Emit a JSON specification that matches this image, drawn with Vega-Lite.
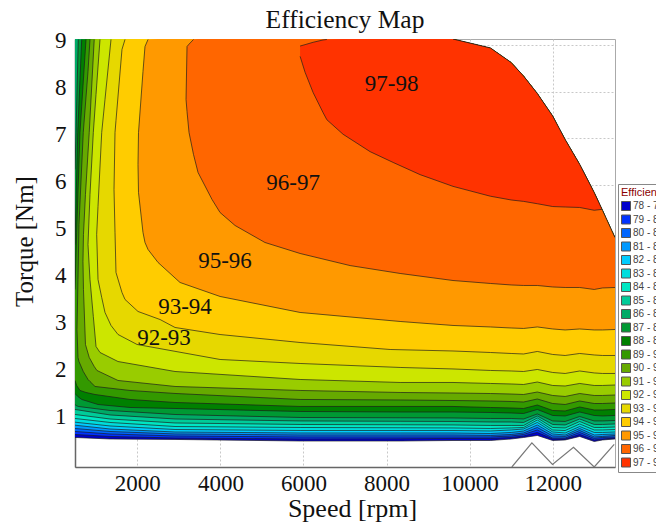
{
"$schema":"https://vega.github.io/schema/vega-lite/v6.json",
"autosize":{"type":"none"},
"padding":{"left":75,"top":39,"right":41,"bottom":56},
"width":540,"height":428,
"background":"white",
"title":{"text":"Efficiency Map","font":"Liberation Serif","fontSize":25.5,"fontWeight":"normal","color":"#111","anchor":"middle","offset":-4},
"config":{"view":{"stroke":"#aaa","strokeWidth":1},
"axis":{"grid":true,"gridColor":"#c8c8c8","gridDash":[2,2],"gridWidth":1,"ticks":false,"domainColor":"#666","domainWidth":1.5,"labelFont":"Liberation Serif","labelFontSize":23,"labelColor":"#111","titleFont":"Liberation Serif","titleFontWeight":"normal","titleColor":"#111","titleFontSize":25}},
"data":{"values":[
{"l":"78 - 79","s":500,"v":0.629,"t":9.12},{"l":"78 - 79","s":1343,"v":0.597,"t":9.12},{"l":"78 - 79","s":2908,"v":0.587,"t":9.12},{"l":"78 - 79","s":5919,"v":0.554,"t":9.12},{"l":"78 - 79","s":8327,"v":0.554,"t":9.12},{"l":"78 - 79","s":9600,"v":0.565,"t":9.12},{"l":"78 - 79","s":10500,"v":0.565,"t":8.93},{"l":"78 - 79","s":11000,"v":0.597,"t":8.62},{"l":"78 - 79","s":11300,"v":0.629,"t":8.33},{"l":"78 - 79","s":11630,"v":0.672,"t":7.96},{"l":"78 - 79","s":12000,"v":0.565,"t":7.48},{"l":"78 - 79","s":12300,"v":0.576,"t":6.98},{"l":"78 - 79","s":12650,"v":0.651,"t":6.45},{"l":"78 - 79","s":13000,"v":0.544,"t":5.85},{"l":"78 - 79","s":13200,"v":0.576,"t":5.47},{"l":"78 - 79","s":13500,"v":0.597,"t":4.89},
{"l":"79 - 80","s":500,"v":0.693,"t":9.12},{"l":"79 - 80","s":1343,"v":0.651,"t":9.12},{"l":"79 - 80","s":2908,"v":0.618,"t":9.12},{"l":"79 - 80","s":5919,"v":0.597,"t":9.12},{"l":"79 - 80","s":8327,"v":0.601,"t":9.12},{"l":"79 - 80","s":9600,"v":0.608,"t":9.12},{"l":"79 - 80","s":10500,"v":0.608,"t":8.93},{"l":"79 - 80","s":11000,"v":0.629,"t":8.62},{"l":"79 - 80","s":11300,"v":0.661,"t":8.33},{"l":"79 - 80","s":11630,"v":0.736,"t":7.96},{"l":"79 - 80","s":12000,"v":0.597,"t":7.48},{"l":"79 - 80","s":12300,"v":0.597,"t":6.98},{"l":"79 - 80","s":12650,"v":0.693,"t":6.45},{"l":"79 - 80","s":13000,"v":0.576,"t":5.85},{"l":"79 - 80","s":13200,"v":0.597,"t":5.47},{"l":"79 - 80","s":13500,"v":0.618,"t":4.89},
{"l":"80 - 81","s":500,"v":0.757,"t":9.12},{"l":"80 - 81","s":1343,"v":0.704,"t":9.12},{"l":"80 - 81","s":2908,"v":0.661,"t":9.12},{"l":"80 - 81","s":5919,"v":0.64,"t":9.12},{"l":"80 - 81","s":8327,"v":0.64,"t":9.12},{"l":"80 - 81","s":9600,"v":0.64,"t":9.12},{"l":"80 - 81","s":10500,"v":0.64,"t":8.93},{"l":"80 - 81","s":11000,"v":0.661,"t":8.62},{"l":"80 - 81","s":11300,"v":0.693,"t":8.33},{"l":"80 - 81","s":11630,"v":0.789,"t":7.96},{"l":"80 - 81","s":12000,"v":0.618,"t":7.48},{"l":"80 - 81","s":12300,"v":0.618,"t":6.98},{"l":"80 - 81","s":12650,"v":0.736,"t":6.45},{"l":"80 - 81","s":13000,"v":0.608,"t":5.85},{"l":"80 - 81","s":13200,"v":0.629,"t":5.47},{"l":"80 - 81","s":13500,"v":0.64,"t":4.89},
{"l":"81 - 82","s":500,"v":0.821,"t":9.12},{"l":"81 - 82","s":1343,"v":0.757,"t":9.12},{"l":"81 - 82","s":2908,"v":0.704,"t":9.12},{"l":"81 - 82","s":5919,"v":0.682,"t":9.12},{"l":"81 - 82","s":8327,"v":0.682,"t":9.12},{"l":"81 - 82","s":9600,"v":0.682,"t":9.12},{"l":"81 - 82","s":10500,"v":0.672,"t":8.93},{"l":"81 - 82","s":11000,"v":0.693,"t":8.62},{"l":"81 - 82","s":11300,"v":0.725,"t":8.33},{"l":"81 - 82","s":11630,"v":0.842,"t":7.96},{"l":"81 - 82","s":12000,"v":0.661,"t":7.48},{"l":"81 - 82","s":12300,"v":0.651,"t":6.98},{"l":"81 - 82","s":12650,"v":0.778,"t":6.45},{"l":"81 - 82","s":13000,"v":0.64,"t":5.85},{"l":"81 - 82","s":13200,"v":0.651,"t":5.47},{"l":"81 - 82","s":13500,"v":0.672,"t":4.89},
{"l":"82 - 83","s":500,"v":0.891,"t":9.12},{"l":"82 - 83","s":1343,"v":0.81,"t":9.12},{"l":"82 - 83","s":2908,"v":0.746,"t":9.12},{"l":"82 - 83","s":5919,"v":0.725,"t":9.12},{"l":"82 - 83","s":8327,"v":0.725,"t":9.12},{"l":"82 - 83","s":9600,"v":0.725,"t":9.12},{"l":"82 - 83","s":10500,"v":0.714,"t":8.93},{"l":"82 - 83","s":11000,"v":0.736,"t":8.62},{"l":"82 - 83","s":11300,"v":0.767,"t":8.33},{"l":"82 - 83","s":11630,"v":0.896,"t":7.96},{"l":"82 - 83","s":12000,"v":0.704,"t":7.48},{"l":"82 - 83","s":12300,"v":0.682,"t":6.98},{"l":"82 - 83","s":12650,"v":0.821,"t":6.45},{"l":"82 - 83","s":13000,"v":0.682,"t":5.85},{"l":"82 - 83","s":13200,"v":0.693,"t":5.47},{"l":"82 - 83","s":13500,"v":0.704,"t":4.89},
{"l":"83 - 84","s":500,"v":0.955,"t":9.12},{"l":"83 - 84","s":1343,"v":0.874,"t":9.12},{"l":"83 - 84","s":2908,"v":0.799,"t":9.12},{"l":"83 - 84","s":5919,"v":0.778,"t":9.12},{"l":"83 - 84","s":8327,"v":0.778,"t":9.12},{"l":"83 - 84","s":9600,"v":0.778,"t":9.12},{"l":"83 - 84","s":10500,"v":0.767,"t":8.93},{"l":"83 - 84","s":11000,"v":0.789,"t":8.62},{"l":"83 - 84","s":11300,"v":0.81,"t":8.33},{"l":"83 - 84","s":11630,"v":0.949,"t":7.96},{"l":"83 - 84","s":12000,"v":0.746,"t":7.48},{"l":"83 - 84","s":12300,"v":0.725,"t":6.98},{"l":"83 - 84","s":12650,"v":0.863,"t":6.45},{"l":"83 - 84","s":13000,"v":0.736,"t":5.85},{"l":"83 - 84","s":13200,"v":0.736,"t":5.47},{"l":"83 - 84","s":13500,"v":0.746,"t":4.89},
{"l":"84 - 85","s":500,"v":1.034,"t":9.12},{"l":"84 - 85","s":1343,"v":0.949,"t":9.12},{"l":"84 - 85","s":2908,"v":0.863,"t":9.12},{"l":"84 - 85","s":5919,"v":0.842,"t":9.12},{"l":"84 - 85","s":8327,"v":0.836,"t":9.12},{"l":"84 - 85","s":9600,"v":0.832,"t":9.12},{"l":"84 - 85","s":10500,"v":0.821,"t":8.93},{"l":"84 - 85","s":11000,"v":0.832,"t":8.62},{"l":"84 - 85","s":11300,"v":0.842,"t":8.33},{"l":"84 - 85","s":11630,"v":1.002,"t":7.96},{"l":"84 - 85","s":12000,"v":0.789,"t":7.48},{"l":"84 - 85","s":12300,"v":0.778,"t":6.98},{"l":"84 - 85","s":12650,"v":0.917,"t":6.45},{"l":"84 - 85","s":13000,"v":0.789,"t":5.85},{"l":"84 - 85","s":13200,"v":0.789,"t":5.47},{"l":"84 - 85","s":13500,"v":0.799,"t":4.89},
{"l":"85 - 86","s":500,"v":1.119,"t":9.12},{"l":"85 - 86","s":1343,"v":1.023,"t":9.12},{"l":"85 - 86","s":2908,"v":0.938,"t":9.12},{"l":"85 - 86","s":5919,"v":0.906,"t":9.12},{"l":"85 - 86","s":8327,"v":0.9,"t":9.12},{"l":"85 - 86","s":9600,"v":0.896,"t":9.12},{"l":"85 - 86","s":10500,"v":0.885,"t":8.93},{"l":"85 - 86","s":11000,"v":0.885,"t":8.62},{"l":"85 - 86","s":11300,"v":0.885,"t":8.33},{"l":"85 - 86","s":11630,"v":1.045,"t":7.96},{"l":"85 - 86","s":12000,"v":0.842,"t":7.48},{"l":"85 - 86","s":12300,"v":0.832,"t":6.98},{"l":"85 - 86","s":12650,"v":0.97,"t":6.45},{"l":"85 - 86","s":13000,"v":0.842,"t":5.85},{"l":"85 - 86","s":13200,"v":0.842,"t":5.47},{"l":"85 - 86","s":13500,"v":0.853,"t":4.89},
{"l":"86 - 87","s":500,"v":1.226,"t":9.12},{"l":"86 - 87","s":1343,"v":1.109,"t":9.12},{"l":"86 - 87","s":2908,"v":1.023,"t":9.12},{"l":"86 - 87","s":5919,"v":0.981,"t":9.12},{"l":"86 - 87","s":8327,"v":0.974,"t":9.12},{"l":"86 - 87","s":9600,"v":0.97,"t":9.12},{"l":"86 - 87","s":10500,"v":0.959,"t":8.93},{"l":"86 - 87","s":11000,"v":0.959,"t":8.62},{"l":"86 - 87","s":11300,"v":0.949,"t":8.33},{"l":"86 - 87","s":11630,"v":1.087,"t":7.96},{"l":"86 - 87","s":12000,"v":0.906,"t":7.48},{"l":"86 - 87","s":12300,"v":0.896,"t":6.98},{"l":"86 - 87","s":12650,"v":1.023,"t":6.45},{"l":"86 - 87","s":13000,"v":0.906,"t":5.85},{"l":"86 - 87","s":13200,"v":0.906,"t":5.47},{"l":"86 - 87","s":13500,"v":0.917,"t":4.89},
{"l":"87 - 88","s":500,"v":1.332,"t":6.34},{"l":"87 - 88","s":525,"v":1.311,"t":7.128},{"l":"87 - 88","s":579,"v":1.29,"t":9.11},{"l":"87 - 88","s":1343,"v":1.204,"t":9.12},{"l":"87 - 88","s":2908,"v":1.119,"t":9.12},{"l":"87 - 88","s":5919,"v":1.055,"t":9.12},{"l":"87 - 88","s":8327,"v":1.049,"t":9.12},{"l":"87 - 88","s":9600,"v":1.045,"t":9.12},{"l":"87 - 88","s":10500,"v":1.034,"t":8.93},{"l":"87 - 88","s":11000,"v":1.034,"t":8.62},{"l":"87 - 88","s":11300,"v":1.023,"t":8.33},{"l":"87 - 88","s":11630,"v":1.13,"t":7.96},{"l":"87 - 88","s":12000,"v":0.981,"t":7.48},{"l":"87 - 88","s":12300,"v":0.97,"t":6.98},{"l":"87 - 88","s":12650,"v":1.076,"t":6.45},{"l":"87 - 88","s":13000,"v":0.981,"t":5.85},{"l":"87 - 88","s":13200,"v":0.981,"t":5.47},{"l":"87 - 88","s":13500,"v":0.991,"t":4.89},
{"l":"88 - 89","s":500,"v":1.566,"t":4.741},{"l":"88 - 89","s":566,"v":1.503,"t":7.128},{"l":"88 - 89","s":661,"v":1.439,"t":9.11},{"l":"88 - 89","s":1053,"v":1.332,"t":9.12},{"l":"88 - 89","s":1825,"v":1.268,"t":9.12},{"l":"88 - 89","s":2908,"v":1.247,"t":9.12},{"l":"88 - 89","s":5919,"v":1.183,"t":9.12},{"l":"88 - 89","s":8327,"v":1.172,"t":9.12},{"l":"88 - 89","s":9600,"v":1.172,"t":9.12},{"l":"88 - 89","s":10500,"v":1.162,"t":8.93},{"l":"88 - 89","s":11000,"v":1.151,"t":8.62},{"l":"88 - 89","s":11300,"v":1.14,"t":8.33},{"l":"88 - 89","s":11630,"v":1.226,"t":7.96},{"l":"88 - 89","s":12000,"v":1.098,"t":7.48},{"l":"88 - 89","s":12300,"v":1.087,"t":6.98},{"l":"88 - 89","s":12650,"v":1.172,"t":6.45},{"l":"88 - 89","s":13000,"v":1.098,"t":5.85},{"l":"88 - 89","s":13200,"v":1.087,"t":5.47},{"l":"88 - 89","s":13500,"v":1.098,"t":4.89},
{"l":"89 - 90","s":500,"v":1.844,"t":3.782},{"l":"89 - 90","s":540,"v":1.737,"t":4.997},{"l":"89 - 90","s":620,"v":1.631,"t":7.128},{"l":"89 - 90","s":765,"v":1.588,"t":9.11},{"l":"89 - 90","s":982,"v":1.545,"t":9.12},{"l":"89 - 90","s":1825,"v":1.439,"t":9.12},{"l":"89 - 90","s":2908,"v":1.375,"t":9.12},{"l":"89 - 90","s":5919,"v":1.29,"t":9.12},{"l":"89 - 90","s":8327,"v":1.29,"t":9.12},{"l":"89 - 90","s":9600,"v":1.29,"t":9.12},{"l":"89 - 90","s":10500,"v":1.268,"t":8.93},{"l":"89 - 90","s":11000,"v":1.258,"t":8.62},{"l":"89 - 90","s":11300,"v":1.247,"t":8.33},{"l":"89 - 90","s":11630,"v":1.321,"t":7.96},{"l":"89 - 90","s":12000,"v":1.204,"t":7.48},{"l":"89 - 90","s":12300,"v":1.194,"t":6.98},{"l":"89 - 90","s":12650,"v":1.279,"t":6.45},{"l":"89 - 90","s":13000,"v":1.215,"t":5.85},{"l":"89 - 90","s":13200,"v":1.215,"t":5.47},{"l":"89 - 90","s":13500,"v":1.226,"t":4.89},
{"l":"90 - 91","s":548,"v":2.93,"t":2.93},{"l":"90 - 91","s":572,"v":2.334,"t":3.996},{"l":"90 - 91","s":596,"v":2.248,"t":5.168},{"l":"90 - 91","s":699,"v":2.035,"t":7.128},{"l":"90 - 91","s":813,"v":1.865,"t":8.428},{"l":"90 - 91","s":861,"v":1.822,"t":9.11},{"l":"90 - 91","s":982,"v":1.716,"t":9.12},{"l":"90 - 91","s":1825,"v":1.631,"t":9.12},{"l":"90 - 91","s":2908,"v":1.567,"t":9.12},{"l":"90 - 91","s":5919,"v":1.439,"t":9.12},{"l":"90 - 91","s":8327,"v":1.428,"t":9.12},{"l":"90 - 91","s":9600,"v":1.417,"t":9.12},{"l":"90 - 91","s":10500,"v":1.407,"t":8.93},{"l":"90 - 91","s":11000,"v":1.396,"t":8.62},{"l":"90 - 91","s":11300,"v":1.385,"t":8.33},{"l":"90 - 91","s":11630,"v":1.449,"t":7.96},{"l":"90 - 91","s":12000,"v":1.353,"t":7.48},{"l":"90 - 91","s":12300,"v":1.332,"t":6.98},{"l":"90 - 91","s":12650,"v":1.407,"t":6.45},{"l":"90 - 91","s":13000,"v":1.353,"t":5.85},{"l":"90 - 91","s":13200,"v":1.353,"t":5.47},{"l":"90 - 91","s":13500,"v":1.364,"t":4.89},
{"l":"91 - 92","s":692,"v":4.38,"t":4.38},{"l":"91 - 92","s":704,"v":3.782,"t":4.955},{"l":"91 - 92","s":752,"v":2.611,"t":5.807},{"l":"91 - 92","s":843,"v":2.334,"t":7.128},{"l":"91 - 92","s":963,"v":2.142,"t":9.11},{"l":"91 - 92","s":1028,"v":2.057,"t":9.12},{"l":"91 - 92","s":1535,"v":1.844,"t":9.12},{"l":"91 - 92","s":2908,"v":1.716,"t":9.12},{"l":"91 - 92","s":5919,"v":1.631,"t":9.12},{"l":"91 - 92","s":8327,"v":1.588,"t":9.12},{"l":"91 - 92","s":9600,"v":1.577,"t":9.12},{"l":"91 - 92","s":10500,"v":1.566,"t":8.93},{"l":"91 - 92","s":11000,"v":1.555,"t":8.62},{"l":"91 - 92","s":11300,"v":1.545,"t":8.33},{"l":"91 - 92","s":11630,"v":1.598,"t":7.96},{"l":"91 - 92","s":12000,"v":1.524,"t":7.48},{"l":"91 - 92","s":12300,"v":1.503,"t":6.98},{"l":"91 - 92","s":12650,"v":1.566,"t":6.45},{"l":"91 - 92","s":13000,"v":1.524,"t":5.85},{"l":"91 - 92","s":13200,"v":1.524,"t":5.47},{"l":"91 - 92","s":13500,"v":1.534,"t":4.89},
{"l":"92 - 93","s":813,"v":4.74,"t":4.74},{"l":"92 - 93","s":861,"v":3.996,"t":5.807},{"l":"92 - 93","s":941,"v":3.208,"t":7.128},{"l":"92 - 93","s":1006,"v":2.568,"t":7.938},{"l":"92 - 93","s":1102,"v":2.44,"t":9.11},{"l":"92 - 93","s":1535,"v":2.248,"t":9.12},{"l":"92 - 93","s":2908,"v":2.035,"t":9.12},{"l":"92 - 93","s":5919,"v":1.865,"t":9.12},{"l":"92 - 93","s":8327,"v":1.801,"t":9.12},{"l":"92 - 93","s":9600,"v":1.801,"t":9.12},{"l":"92 - 93","s":10500,"v":1.78,"t":8.93},{"l":"92 - 93","s":11000,"v":1.769,"t":8.62},{"l":"92 - 93","s":11300,"v":1.758,"t":8.33},{"l":"92 - 93","s":11630,"v":1.811,"t":7.96},{"l":"92 - 93","s":12000,"v":1.737,"t":7.48},{"l":"92 - 93","s":12300,"v":1.726,"t":6.98},{"l":"92 - 93","s":12650,"v":1.78,"t":6.45},{"l":"92 - 93","s":13000,"v":1.737,"t":5.85},{"l":"92 - 93","s":13200,"v":1.737,"t":5.47},{"l":"92 - 93","s":13500,"v":1.747,"t":4.89},
{"l":"93 - 94","s":1022,"v":4.955,"t":4.955},{"l":"93 - 94","s":1054,"v":3.996,"t":5.551},{"l":"93 - 94","s":1143,"v":3.612,"t":7.128},{"l":"93 - 94","s":1222,"v":3.293,"t":7.831},{"l":"93 - 94","s":1367,"v":3.016,"t":9.11},{"l":"93 - 94","s":1535,"v":2.824,"t":9.12},{"l":"93 - 94","s":1993,"v":2.611,"t":9.12},{"l":"93 - 94","s":3992,"v":2.291,"t":9.12},{"l":"93 - 94","s":5919,"v":2.206,"t":9.12},{"l":"93 - 94","s":8327,"v":2.121,"t":9.12},{"l":"93 - 94","s":9600,"v":2.089,"t":9.12},{"l":"93 - 94","s":10500,"v":2.057,"t":8.93},{"l":"93 - 94","s":11000,"v":2.046,"t":8.62},{"l":"93 - 94","s":11300,"v":2.035,"t":8.33},{"l":"93 - 94","s":11630,"v":2.078,"t":7.96},{"l":"93 - 94","s":12000,"v":2.014,"t":7.48},{"l":"93 - 94","s":12300,"v":1.993,"t":6.98},{"l":"93 - 94","s":12650,"v":2.046,"t":6.45},{"l":"93 - 94","s":13000,"v":2.004,"t":5.85},{"l":"93 - 94","s":13200,"v":1.993,"t":5.47},{"l":"93 - 94","s":13500,"v":1.993,"t":4.89},
{"l":"94 - 95","s":1439,"v":5.914,"t":5.914},{"l":"94 - 95","s":1463,"v":4.997,"t":7.128},{"l":"94 - 95","s":1487,"v":4.145,"t":7.384},{"l":"94 - 95","s":1631,"v":3.719,"t":8.897},{"l":"94 - 95","s":1704,"v":3.57,"t":9.11},{"l":"94 - 95","s":2017,"v":3.314,"t":9.12},{"l":"94 - 95","s":2547,"v":3.143,"t":9.12},{"l":"94 - 95","s":2908,"v":2.973,"t":9.12},{"l":"94 - 95","s":3992,"v":2.823,"t":9.12},{"l":"94 - 95","s":5919,"v":2.653,"t":9.12},{"l":"94 - 95","s":8086,"v":2.504,"t":9.12},{"l":"94 - 95","s":9600,"v":2.472,"t":9.12},{"l":"94 - 95","s":10500,"v":2.44,"t":8.93},{"l":"94 - 95","s":11000,"v":2.419,"t":8.62},{"l":"94 - 95","s":11300,"v":2.408,"t":8.33},{"l":"94 - 95","s":11630,"v":2.462,"t":7.96},{"l":"94 - 95","s":12000,"v":2.398,"t":7.48},{"l":"94 - 95","s":12300,"v":2.376,"t":6.98},{"l":"94 - 95","s":12650,"v":2.419,"t":6.45},{"l":"94 - 95","s":13000,"v":2.387,"t":5.85},{"l":"94 - 95","s":13200,"v":2.376,"t":5.47},{"l":"94 - 95","s":13500,"v":2.376,"t":4.89},
{"l":"95 - 96","s":2017,"v":6.446,"t":6.446},{"l":"95 - 96","s":2029,"v":5.849,"t":7.128},{"l":"95 - 96","s":2137,"v":4.997,"t":8.428},{"l":"95 - 96","s":2185,"v":4.784,"t":8.96},{"l":"95 - 96","s":2258,"v":4.635,"t":9.11},{"l":"95 - 96","s":2499,"v":4.358,"t":9.12},{"l":"95 - 96","s":3028,"v":3.932,"t":9.12},{"l":"95 - 96","s":3992,"v":3.634,"t":9.12},{"l":"95 - 96","s":5919,"v":3.293,"t":9.12},{"l":"95 - 96","s":8327,"v":3.101,"t":9.12},{"l":"95 - 96","s":9600,"v":3.016,"t":9.12},{"l":"95 - 96","s":10500,"v":2.984,"t":8.93},{"l":"95 - 96","s":11000,"v":2.962,"t":8.62},{"l":"95 - 96","s":11300,"v":2.952,"t":8.33},{"l":"95 - 96","s":11630,"v":2.984,"t":7.96},{"l":"95 - 96","s":12000,"v":2.941,"t":7.48},{"l":"95 - 96","s":12300,"v":2.92,"t":6.98},{"l":"95 - 96","s":12650,"v":2.941,"t":6.45},{"l":"95 - 96","s":13000,"v":2.92,"t":5.85},{"l":"95 - 96","s":13200,"v":2.92,"t":5.47},{"l":"95 - 96","s":13500,"v":2.93,"t":4.89},
{"l":"96 - 97","s":3173,"v":7.831,"t":7.831},{"l":"96 - 97","s":3197,"v":7.575,"t":8.96},{"l":"96 - 97","s":3245,"v":7.128,"t":9.01},{"l":"96 - 97","s":3353,"v":6.659,"t":9.11},{"l":"96 - 97","s":3462,"v":6.276,"t":9.12},{"l":"96 - 97","s":3799,"v":5.7,"t":9.12},{"l":"96 - 97","s":3992,"v":5.423,"t":9.12},{"l":"96 - 97","s":4353,"v":5.146,"t":9.12},{"l":"96 - 97","s":5073,"v":4.784,"t":9.12},{"l":"96 - 97","s":5919,"v":4.55,"t":9.12},{"l":"96 - 97","s":7123,"v":4.292,"t":9.12},{"l":"96 - 97","s":8327,"v":4.124,"t":9.12},{"l":"96 - 97","s":9600,"v":3.974,"t":9.12},{"l":"96 - 97","s":10500,"v":3.911,"t":8.93},{"l":"96 - 97","s":11000,"v":3.879,"t":8.62},{"l":"96 - 97","s":11300,"v":3.868,"t":8.33},{"l":"96 - 97","s":11630,"v":3.868,"t":7.96},{"l":"96 - 97","s":12000,"v":3.836,"t":7.48},{"l":"96 - 97","s":12300,"v":3.825,"t":6.98},{"l":"96 - 97","s":12650,"v":3.825,"t":6.45},{"l":"96 - 97","s":13000,"v":3.783,"t":5.85},{"l":"96 - 97","s":13200,"v":3.815,"t":5.47},{"l":"96 - 97","s":13500,"v":3.825,"t":4.89},
{"l":"97 - 98","s":5919,"v":8.75,"t":8.97},{"l":"97 - 98","s":6039,"v":8.41,"t":9.0},{"l":"97 - 98","s":6232,"v":7.98,"t":9.05},{"l":"97 - 98","s":6473,"v":7.55,"t":9.1},{"l":"97 - 98","s":6563,"v":7.4,"t":9.11},{"l":"97 - 98","s":6954,"v":7.09,"t":9.12},{"l":"97 - 98","s":7604,"v":6.72,"t":9.12},{"l":"97 - 98","s":8158,"v":6.49,"t":9.12},{"l":"97 - 98","s":8808,"v":6.23,"t":9.12},{"l":"97 - 98","s":9600,"v":5.98,"t":9.12},{"l":"97 - 98","s":10500,"v":5.77,"t":8.93},{"l":"97 - 98","s":11000,"v":5.69,"t":8.62},{"l":"97 - 98","s":11300,"v":5.66,"t":8.33},{"l":"97 - 98","s":11630,"v":5.61,"t":7.96},{"l":"97 - 98","s":12000,"v":5.55,"t":7.48},{"l":"97 - 98","s":12300,"v":5.54,"t":6.98},{"l":"97 - 98","s":12650,"v":5.53,"t":6.45},{"l":"97 - 98","s":13000,"v":5.47,"t":5.85},{"l":"97 - 98","s":13185,"v":5.49,"t":5.49}
]},
"layer":[
{"mark":{"type":"area","orient":"vertical","interpolate":"linear","opacity":1},
"encoding":{
"x":{"field":"s","type":"quantitative","scale":{"domain":[500,13500],"nice":false,"zero":false},"title":"Speed [rpm]","axis":{"values":[2000,4000,6000,8000,10000,12000],"format":"d","labelPadding":5,"titlePadding":0,"titleX":277,"titleFontSize":26}},
"y":{"field":"v","type":"quantitative","stack":null,"scale":{"domain":[0,9.12],"nice":false,"zero":false},"title":"Torque [Nm]","axis":{"values":[1,2,3,4,5,6,7,8,9],"format":"d","labelOffset":-4,"labelPadding":9,"titleX":-38,"titleY":202}},
"y2":{"field":"t"},
"color":{"field":"l","type":"nominal","scale":{"domain":["78 - 79","79 - 80","80 - 81","81 - 82","82 - 83","83 - 84","84 - 85","85 - 86","86 - 87","87 - 88","88 - 89","89 - 90","90 - 91","91 - 92","92 - 93","93 - 94","94 - 95","95 - 96","96 - 97","97 - 98"],"range":["#0000CC","#0033FF","#0066FF","#0099FF","#00CCFF","#00DDDD","#00E6C3","#00CC99","#00AA66","#009933","#008000","#339900","#66AA00","#99CC00","#CCE600","#E6D800","#FFCC00","#FF9900","#FF6600","#FF3300"]},
"legend":{"orient":"none","legendX":543,"legendY":145,"title":"Efficiency","titleFont":"Liberation Sans","titleFontSize":11,"titleFontWeight":"normal","titleColor":"#8B0000","titlePadding":3,"labelFont":"Liberation Sans","labelFontSize":10,"labelColor":"#444","labelOffset":2,"labelLimit":100,"symbolType":"square","symbolSize":81,"symbolStrokeColor":"#555","symbolStrokeWidth":1,"symbolOpacity":1,"rowPadding":-0.5,"fillColor":"white","strokeColor":"#888","padding":3,"offset":0}}
}},
{"mark":{"type":"line","stroke":"#1a1a1a","strokeWidth":0.8,"strokeOpacity":0.85,"clip":true},
"encoding":{"x":{"field":"s","type":"quantitative","title":"Speed [rpm]"},"y":{"field":"v","type":"quantitative","title":"Torque [Nm]"},"detail":{"field":"l"}}},
{"transform":[{"filter":"datum.t<9.12 && datum.s<9000"}],"mark":{"type":"line","stroke":"#1a1a1a","strokeWidth":0.8,"strokeOpacity":0.85,"clip":true},
"encoding":{"x":{"field":"s","type":"quantitative","title":"Speed [rpm]"},"y":{"field":"t","type":"quantitative","title":"Torque [Nm]"},"detail":{"field":"l"}}},
{"transform":[{"filter":"datum.l=='96 - 97' && datum.s>=9600"}],"mark":{"type":"line","stroke":"#1a1a1a","strokeWidth":0.9,"clip":true},
"encoding":{"x":{"field":"s","type":"quantitative","title":"Speed [rpm]"},"y":{"field":"t","type":"quantitative","title":"Torque [Nm]"}}},
{"data":{"values":[{"s":11017,"v":0},{"s":11499,"v":0.516},{"s":11995,"v":0.053},{"s":12501,"v":0.42},{"s":13000,"v":0},{"s":13481,"v":0.48}]},
"mark":{"type":"line","stroke":"#777","strokeWidth":1.2,"clip":true},
"encoding":{"x":{"field":"s","type":"quantitative","title":"Speed [rpm]"},"y":{"field":"v","type":"quantitative","title":"Torque [Nm]"}}},
{"data":{"values":[{"label":"97-98","s":8122,"v":8.151},{"label":"96-97","s":5750,"v":6.041},{"label":"95-96","s":4112,"v":4.379},{"label":"93-94","s":3149,"v":3.42},{"label":"92-93","s":2643,"v":2.74}]},
"mark":{"type":"text","font":"Liberation Serif","fontSize":23,"color":"#111"},
"encoding":{"x":{"field":"s","type":"quantitative","title":"Speed [rpm]"},"y":{"field":"v","type":"quantitative","title":"Torque [Nm]"},"text":{"field":"label"}}}
]
}
